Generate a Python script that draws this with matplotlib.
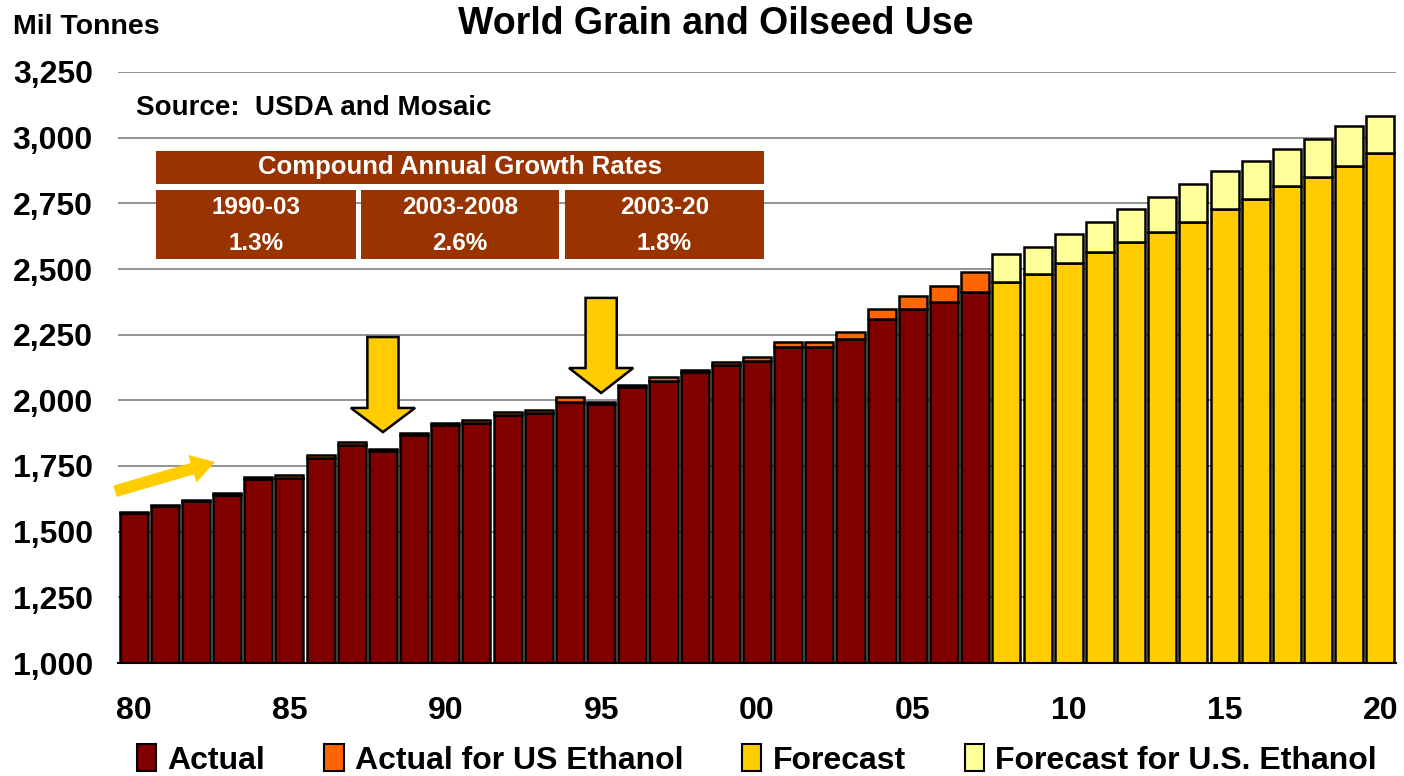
import numpy as np
import matplotlib
matplotlib.use("Agg")
from matplotlib import pyplot as plt
from matplotlib.patches import Rectangle, Polygon, Patch

# years 1980..2020
years = list(range(1980, 2021))
actual_years = list(range(1980, 2008))
forecast_years = list(range(2008, 2021))

actual = [1571, 1598, 1617, 1638, 1702, 1706, 1782, 1829, 1807, 1867,
          1905, 1915, 1943, 1953, 1994, 1987, 2050, 2072, 2107, 2134,
          2148, 2204, 2204, 2232, 2308, 2348, 2374, 2414]
actual_ethanol = [2, 3, 3, 8, 5, 8, 10, 12, 6, 10,
                  10, 11, 11, 11, 18, 8, 9, 16, 10, 11,
                  17, 18, 18, 28, 38, 48, 60, 75]
forecast = [2452, 2481, 2521, 2566, 2604, 2642, 2680, 2728, 2766, 2816,
            2851, 2892, 2940]
forecast_ethanol = [104, 104, 112, 114, 124, 133, 142, 145, 145, 142,
                    145, 152, 142]

xtick_labels = ["80", "85", "90", "95", "00", "05", "10", "15", "20"]
ytick_vals = [1000, 1250, 1500, 1750, 2000, 2250, 2500, 2750, 3000, 3250]

cagr_periods = ["1990-03", "2003-2008", "2003-20"]
cagr_rates = ["1.3%", "2.6%", "1.8%"]

c_actual = "#800000"
c_act_eth = "#FF6600"
c_fc = "#FFCC00"
c_fc_eth = "#FFFF99"

W, H = 1404, 776
fig = plt.figure(figsize=(W / 100, H / 100), dpi=100)
ax = fig.add_axes([118 / W, 1 - 663 / H, (1396 - 118) / W, (663 - 72) / H])

bold = dict(family=["Liberation Sans", "DejaVu Sans"], weight="bold")

xa = np.array(actual_years) - 1980
xf = np.array(forecast_years) - 1980
bw = 0.9
lw = 1.8
ax.bar(xa, actual, bw, color=c_actual, edgecolor="black", linewidth=lw)
ax.bar(xa, actual_ethanol, bw, bottom=actual, color=c_act_eth, edgecolor="black", linewidth=lw)
ax.bar(xf, forecast, bw, color=c_fc, edgecolor="black", linewidth=lw)
ax.bar(xf, forecast_ethanol, bw, bottom=forecast, color=c_fc_eth, edgecolor="black", linewidth=lw)

ax.set_xlim(-0.5, 40.5)
ax.set_ylim(1000, 3250)
ax.set_axisbelow(True)
ax.yaxis.grid(True, color="#808080", linewidth=1.2)
ax.set_yticks(ytick_vals)
ax.set_yticklabels([f"{v:,}" for v in ytick_vals], fontsize=23, **bold)
ax.set_xticks(np.arange(0, 41, 5))
ax.set_xticklabels(xtick_labels, fontsize=23, **bold)
ax.tick_params(axis="y", length=0, pad=18)
ax.tick_params(axis="x", length=0, pad=24)
for s in ["top", "right", "left"]:
    ax.spines[s].set_visible(False)
ax.spines["bottom"].set_linewidth(1.5)

# arrows
def down_arrow(xc, top, tip, neck, hw=0.5, hh=1.03):
    pts = [(xc - hw, top), (xc + hw, top), (xc + hw, neck), (xc + hh, neck),
           (xc, tip), (xc - hh, neck), (xc - hw, neck)]
    ax.add_patch(Polygon(pts, closed=True, facecolor=c_fc, edgecolor="black",
                         linewidth=1.8, zorder=5))

down_arrow(15, 2390, 2028, 2123)
down_arrow(8, 2241, 1879, 1971)
ax.annotate("", xy=(2.7, 1768), xytext=(-0.68, 1651),
            arrowprops=dict(arrowstyle="simple,head_width=2.3,head_length=1.9,tail_width=0.95",
                            mutation_scale=9, color=c_fc, linewidth=0),
            annotation_clip=False, zorder=5)

# texts
fig.text(716 / W, 1 - 24 / H, "World Grain and Oilseed Use", ha="center", va="center",
         fontsize=27, **bold)
fig.text(13 / W, 1 - 27 / H, "Mil Tonnes", ha="left", va="center", fontsize=20.5, **bold)
fig.text(136 / W, 1 - 108 / H, "Source:  USDA and Mosaic", ha="left", va="center",
         fontsize=20, **bold)

# CAGR table
tc = "#993300"
def box(x0, y0, x1, y1):
    fig.patches.append(Rectangle((x0 / W, 1 - y1 / H), (x1 - x0) / W, (y1 - y0) / H,
                                 transform=fig.transFigure, facecolor=tc,
                                 edgecolor="none", zorder=6))

box(156, 151, 764, 184)
fig.text(460 / W, 1 - 167 / H, "Compound Annual Growth Rates", ha="center", va="center",
         color="white", fontsize=18.5, zorder=7, **bold)
cells = [(156, 356), (361, 559), (565, 764)]
for (x0, x1), per, rate in zip(cells, cagr_periods, cagr_rates):
    box(x0, 190, x1, 259)
    fig.text((x0 + x1) / 2 / W, 1 - 207 / H, per, ha="center", va="center",
             color="white", fontsize=17.5, zorder=7, **bold)
    fig.text((x0 + x1) / 2 / W, 1 - 243 / H, rate, ha="center", va="center",
             color="white", fontsize=17.5, zorder=7, **bold)

# legend
handles = [Patch(facecolor=c, edgecolor="black", linewidth=1.5)
           for c in [c_actual, c_act_eth, c_fc, c_fc_eth]]
labels = ["Actual", "Actual for US Ethanol", "Forecast", "Forecast for U.S. Ethanol"]
fig.legend(handles, labels, loc="center", bbox_to_anchor=(757 / W, 1 - 760 / H), ncol=4,
           frameon=False, prop=dict(size=23, **bold), handlelength=0.6,
           handleheight=0.9, handletextpad=0.35, columnspacing=1.85, borderpad=0)

fig.savefig("out.png", dpi=100)
